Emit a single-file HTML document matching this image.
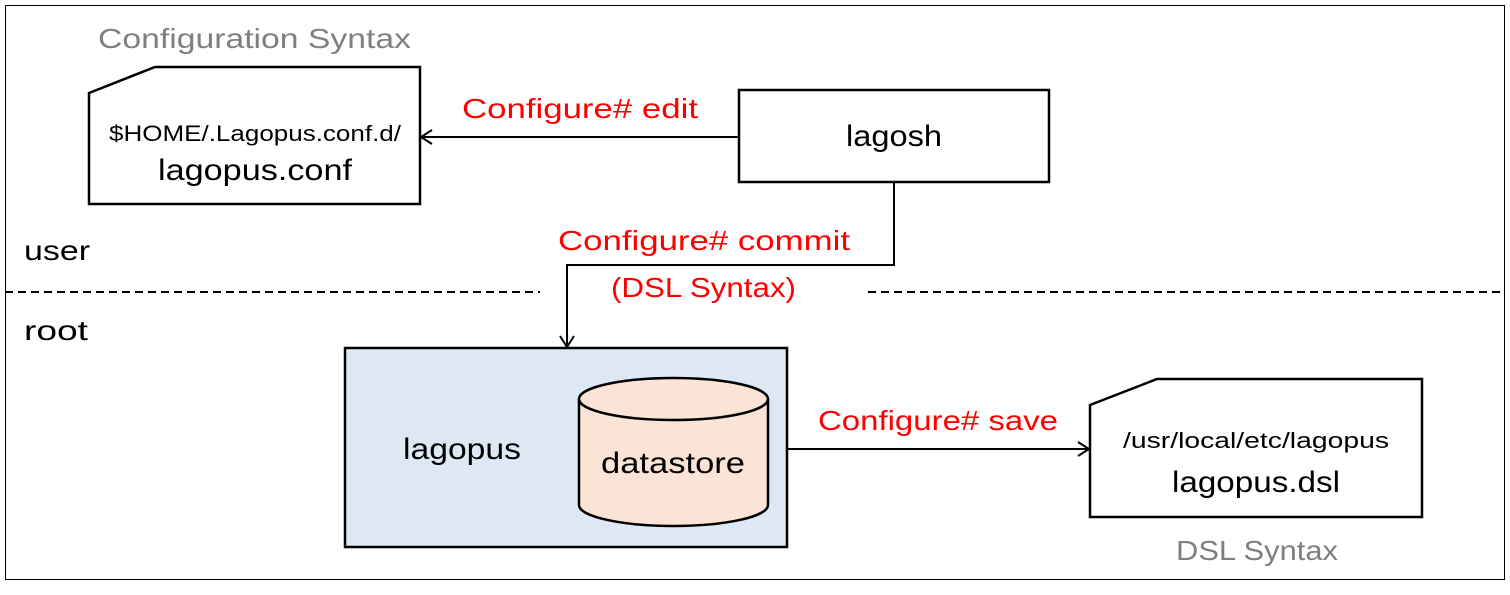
<!DOCTYPE html>
<html><head><meta charset="utf-8"><style>html,body{margin:0;padding:0;background:#fff}svg{display:block}</style></head>
<body>
<svg width="1510" height="595" viewBox="0 0 1510 595" xmlns="http://www.w3.org/2000/svg" font-family="'Liberation Sans', sans-serif">
<defs>
<marker id="a" markerWidth="16" markerHeight="16" refX="13" refY="8" orient="auto" markerUnits="userSpaceOnUse">
<path d="M2,1 L13,8 L2,15" fill="none" stroke="#000" stroke-width="2"/>
</marker>
</defs>
<rect x="5.5" y="5.5" width="1499" height="574" fill="none" stroke="#000" stroke-width="1"/>
<text x="98" y="48" fill="#7f7f7f" font-size="28" textLength="313" lengthAdjust="spacingAndGlyphs">Configuration Syntax</text>
<polygon points="89,93 155,67 420,67 420,204 89,204" fill="#fff" stroke="#000" stroke-width="2.5"/>
<text x="255" y="141" text-anchor="middle" font-size="22" textLength="292" lengthAdjust="spacingAndGlyphs">$HOME/.Lagopus.conf.d/</text>
<text x="255" y="180" text-anchor="middle" font-size="30" textLength="194" lengthAdjust="spacingAndGlyphs">lagopus.conf</text>
<rect x="739" y="90" width="310" height="92" fill="#fff" stroke="#000" stroke-width="2.5"/>
<text x="894" y="146" text-anchor="middle" font-size="30" textLength="96" lengthAdjust="spacingAndGlyphs">lagosh</text>
<line x1="739" y1="137" x2="421" y2="137" stroke="#000" stroke-width="2" marker-end="url(#a)"/>
<text x="462" y="118" fill="#ff0000" font-size="28" textLength="236" lengthAdjust="spacingAndGlyphs">Configure# edit</text>
<text x="24" y="260" font-size="28" textLength="66" lengthAdjust="spacingAndGlyphs">user</text>
<text x="24" y="340" font-size="28" textLength="64" lengthAdjust="spacingAndGlyphs">root</text>
<line x1="5" y1="292" x2="540" y2="292" stroke="#000" stroke-width="2" stroke-dasharray="8,5"/>
<line x1="868" y1="292" x2="1505" y2="292" stroke="#000" stroke-width="2" stroke-dasharray="8,5"/>
<polyline points="894,182 894,265 567,265 567,347" fill="none" stroke="#000" stroke-width="2" marker-end="url(#a)"/>
<text x="558" y="250" fill="#ff0000" font-size="28" textLength="292" lengthAdjust="spacingAndGlyphs">Configure# commit</text>
<text x="611" y="297" fill="#ff0000" font-size="28" textLength="185" lengthAdjust="spacingAndGlyphs">(DSL Syntax)</text>
<rect x="345" y="348" width="442" height="199" fill="#dee8f5" stroke="#000" stroke-width="2.5"/>
<text x="462" y="459" text-anchor="middle" font-size="30" textLength="118" lengthAdjust="spacingAndGlyphs">lagopus</text>
<path d="M579,399 L579,505 A94.5,21 0 0 0 768,505 L768,399" fill="#fbe4d5" stroke="#000" stroke-width="2.5"/>
<ellipse cx="673.5" cy="399" rx="94.5" ry="21" fill="#fbe4d5" stroke="#000" stroke-width="2.5"/>
<text x="673" y="473" text-anchor="middle" font-size="30" textLength="144" lengthAdjust="spacingAndGlyphs">datastore</text>
<line x1="787" y1="449" x2="1089" y2="449" stroke="#000" stroke-width="2" marker-end="url(#a)"/>
<text x="818" y="430" fill="#ff0000" font-size="28" textLength="240" lengthAdjust="spacingAndGlyphs">Configure# save</text>
<polygon points="1090,405 1157,379 1422,379 1422,517 1090,517" fill="#fff" stroke="#000" stroke-width="2.5"/>
<text x="1256" y="448" text-anchor="middle" font-size="22" textLength="266" lengthAdjust="spacingAndGlyphs">/usr/local/etc/lagopus</text>
<text x="1256" y="492" text-anchor="middle" font-size="30" textLength="168" lengthAdjust="spacingAndGlyphs">lagopus.dsl</text>
<text x="1257" y="560" text-anchor="middle" fill="#7f7f7f" font-size="28" textLength="162" lengthAdjust="spacingAndGlyphs">DSL Syntax</text>
</svg>
</body></html>
